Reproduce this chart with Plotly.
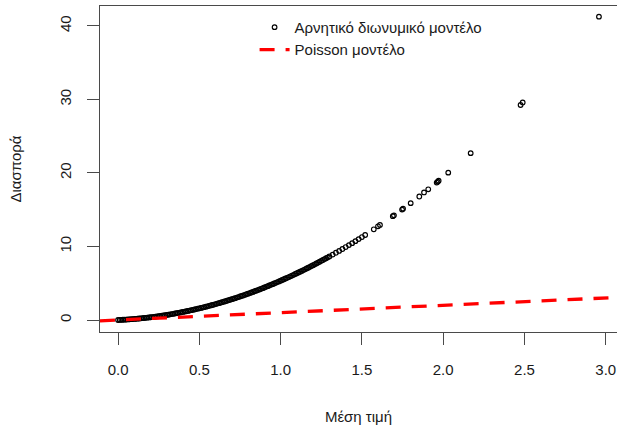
import plotly.graph_objects as go

# Fitted means and the corresponding negative binomial variances
mean_nb = [
    0.00, 0.01, 0.02, 0.03, 0.04, 0.05, 0.06, 0.07, 0.08, 0.09,
    0.10, 0.11, 0.12, 0.13, 0.14, 0.15, 0.16, 0.17, 0.18, 0.19,
    0.20, 0.21, 0.22, 0.23, 0.24, 0.25, 0.26, 0.27, 0.28, 0.29,
    0.30, 0.31, 0.32, 0.33, 0.34, 0.35, 0.36, 0.37, 0.38, 0.39,
    0.40, 0.41, 0.42, 0.43, 0.44, 0.45, 0.46, 0.47, 0.48, 0.49,
    0.50, 0.51, 0.52, 0.53, 0.54, 0.55, 0.56, 0.57, 0.58, 0.59,
    0.60, 0.61, 0.62, 0.63, 0.64, 0.65, 0.66, 0.67, 0.68, 0.69,
    0.70, 0.71, 0.72, 0.73, 0.74, 0.75, 0.76, 0.77, 0.78, 0.79,
    0.80, 0.81, 0.82, 0.83, 0.84, 0.85, 0.86, 0.87, 0.88, 0.89,
    0.90, 0.91, 0.92, 0.93, 0.94, 0.95, 0.96, 0.97, 0.98, 0.99,
    1.00, 1.01, 1.02, 1.03, 1.04, 1.05, 1.06, 1.07, 1.08, 1.09,
    1.10, 1.11, 1.12, 1.13, 1.14, 1.15, 1.16, 1.17, 1.18, 1.19,
    1.20, 1.21, 1.22, 1.23, 1.24, 1.25, 1.26, 1.27, 1.28, 1.29,
    1.30, 1.32, 1.34, 1.36, 1.38, 1.40, 1.42, 1.44, 1.46, 1.48,
    1.50, 1.52, 1.573, 1.599, 1.611, 1.690, 1.697, 1.747, 1.753, 1.800,
    1.853, 1.882, 1.908, 1.960, 1.966, 1.972, 2.031, 2.169, 2.476, 2.489,
    2.958,
]
var_nb = [
    0.000, 0.010, 0.022, 0.034, 0.047, 0.061, 0.076, 0.091, 0.108, 0.125,
    0.144, 0.163, 0.183, 0.204, 0.225, 0.248, 0.271, 0.296, 0.321, 0.347,
    0.374, 0.402, 0.430, 0.460, 0.490, 0.522, 0.554, 0.587, 0.621, 0.656,
    0.691, 0.728, 0.765, 0.804, 0.843, 0.883, 0.924, 0.965, 1.008, 1.051,
    1.096, 1.141, 1.187, 1.234, 1.282, 1.331, 1.380, 1.431, 1.482, 1.534,
    1.587, 1.641, 1.696, 1.751, 1.808, 1.865, 1.924, 1.983, 2.043, 2.104,
    2.165, 2.228, 2.291, 2.356, 2.421, 2.487, 2.554, 2.622, 2.691, 2.760,
    2.831, 2.902, 2.974, 3.047, 3.121, 3.196, 3.271, 3.348, 3.425, 3.504,
    3.583, 3.663, 3.744, 3.825, 3.908, 3.991, 4.076, 4.161, 4.247, 4.334,
    4.422, 4.511, 4.600, 4.691, 4.782, 4.874, 4.967, 5.061, 5.156, 5.252,
    5.348, 5.445, 5.544, 5.643, 5.743, 5.844, 5.945, 6.048, 6.152, 6.256,
    6.361, 6.467, 6.574, 6.682, 6.791, 6.900, 7.011, 7.122, 7.234, 7.347,
    7.461, 7.576, 7.692, 7.808, 7.926, 8.044, 8.163, 8.283, 8.404, 8.526,
    8.648, 8.896, 9.147, 9.402, 9.660, 9.922, 10.187, 10.456, 10.728, 11.004,
    11.283, 11.566, 12.34, 12.75, 12.93, 14.12, 14.24, 15.02, 15.15, 15.90,
    16.80, 17.35, 17.78, 18.70, 18.82, 18.95, 20.05, 22.70, 29.25, 29.60,
    41.27,
]

# Poisson model: variance equals the mean
x_range = [-0.111, 3.069]
y_range = [-1.633, 42.72]
x_ticks = [0.0, 0.5, 1.0, 1.5, 2.0, 2.5, 3.0]
y_ticks = [0, 10, 20, 30, 40]

font_family = "Liberation Sans, Arial, sans-serif"
axis_color = "#4a4a4a"

fig = go.Figure()
fig.add_trace(go.Scatter(
    x=mean_nb, y=var_nb, mode="markers",
    name="Αρνητικό διωνυμικό μοντέλο",
    marker=dict(symbol="circle-open", size=4.6, color="black",
                line=dict(width=1.2, color="black")),
))
fig.add_trace(go.Scatter(
    x=x_range, y=x_range, mode="lines",
    name="Poisson μοντέλο",
    line=dict(color="#ff0000", width=3.3, dash="15px,11px"),
))

fig.update_layout(
    width=617, height=429,
    margin=dict(l=100, r=0, t=6, b=97),
    paper_bgcolor="white", plot_bgcolor="white",
    font=dict(family=font_family, size=15, color="#1a1a1a"),
    showlegend=True,
    legend=dict(
        x=0.299, y=0.985, xanchor="left", yanchor="top",
        bgcolor="rgba(0,0,0,0)", borderwidth=0,
        font=dict(size=15, family=font_family, color="#1a1a1a"),
        tracegroupgap=0, itemwidth=30,
    ),
    xaxis=dict(
        range=x_range, tickvals=x_ticks, tickformat=".1f",
        showgrid=False, zeroline=False,
        showline=True, linecolor=axis_color, linewidth=1, mirror=True,
        ticks="outside", ticklen=12, tickcolor=axis_color, tickwidth=1,
        ticklabelstandoff=12,
        title=dict(text="Μέση τιμή", standoff=34,
                   font=dict(size=15, family=font_family)),
    ),
    yaxis=dict(
        range=y_range, tickvals=y_ticks, tickangle=-90,
        showgrid=False, zeroline=False,
        showline=True, linecolor=axis_color, linewidth=1, mirror=False,
        ticks="outside", ticklen=12, tickcolor=axis_color, tickwidth=1,
        ticklabelstandoff=10,
        title=dict(text="Διασπορά", standoff=31,
                   font=dict(size=15, family=font_family)),
    ),
)

fig.write_html("out.html")
